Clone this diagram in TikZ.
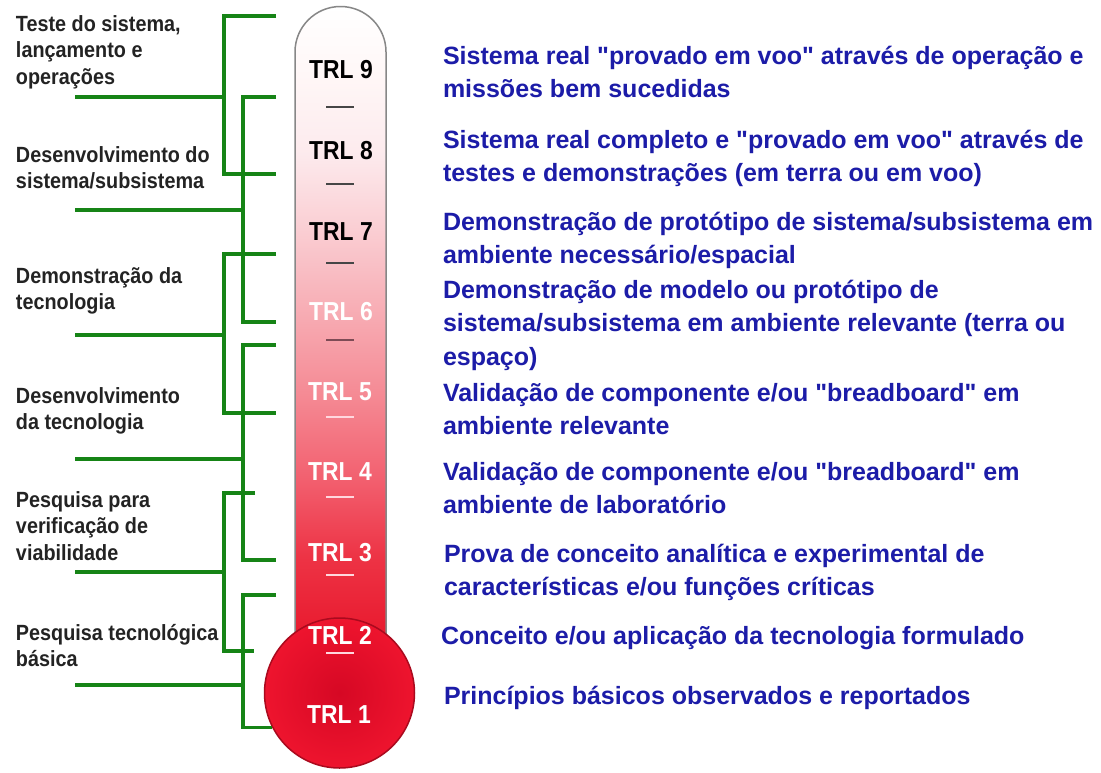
\documentclass[tikz,border=0pt]{standalone}
\usepackage{fontspec}
\setmainfont{Liberation Sans}
\newfontfamily\descfont{Liberation Sans}[Ligatures=ResetAll]
\newfontfamily\leftfont[FakeStretch=0.9]{Liberation Sans}
\newfontfamily\trlfont[FakeStretch=0.88]{Liberation Sans}
\definecolor{brgreen}{RGB}{22,132,22}
\definecolor{descblue}{RGB}{28,28,168}
\definecolor{leftgray}{RGB}{35,35,35}
\definecolor{bulbin}{RGB}{214,8,36}
\definecolor{bulbout}{RGB}{238,20,46}
\definecolor{bulbedge}{RGB}{170,10,30}
\definecolor{tubeedge}{RGB}{135,135,135}
\definecolor{tickdark}{RGB}{70,70,70}
\definecolor{tickmid}{RGB}{125,75,85}
\definecolor{ticklight}{RGB}{255,215,222}
\pgfdeclareverticalshading{tubeshade}{100bp}{%
  rgb(0bp)=(0.91,0.07,0.16);
  rgb(25bp)=(0.91,0.07,0.16);
  rgb(26.5bp)=(0.91,0.09,0.17);
  rgb(33.2bp)=(0.93,0.20,0.27);
  rgb(39.3bp)=(0.95,0.38,0.44);
  rgb(45.5bp)=(0.96,0.54,0.58);
  rgb(51.5bp)=(0.97,0.67,0.70);
  rgb(57.7bp)=(0.98,0.80,0.82);
  rgb(63.9bp)=(0.99,0.92,0.93);
  rgb(70bp)=(1,0.97,0.97);
  rgb(75bp)=(1,1,1);
  rgb(100bp)=(1,1,1)}
\tikzset{
  bracket/.style={draw=brgreen, line width=3.2pt},
  desc/.style={anchor=north west, inner sep=0pt, outer sep=0pt, align=left,
    text=descblue, font=\descfont\fontsize{25}{33.5}\selectfont\bfseries},
  cat/.style={anchor=north west, inner sep=0pt, outer sep=0pt, align=left,
    text=leftgray, font=\leftfont\fontsize{22}{26.8}\selectfont\bfseries},
  trl/.style={inner sep=0pt, font=\trlfont\fontsize{26}{30}\selectfont\bfseries},
  tickmark/.style={line width=2pt},
}
\newcommand{\fr}{\rule{0pt}{20pt}}
\newcommand{\fl}{\rule{0pt}{18pt}}
\begin{document}
\begin{tikzpicture}[x=1pt, y=-1pt]
\useasboundingbox (0,0) rectangle (1101,772);
\fill[white] (0,0) rectangle (1101,772);

% tube
\path[shading=tubeshade, draw=tubeedge, line width=1.5pt]
  (295,665) -- (295,52)
  .. controls (295,26.87) and (315.37,6.5) .. (340.5,6.5)
  .. controls (365.63,6.5) and (386,26.87) .. (386,52)
  -- (386,665) -- cycle;
% bulb
\node[circle, minimum size=150pt, inner sep=0pt, draw=bulbedge, line width=1.5pt,
  inner color=bulbin, outer color=bulbout] (bulb) at (339.5,693) {};

% bracket coordinates
\coordinate (Atop) at (276,16);  \coordinate (Av) at (224,97);  \coordinate (Abot) at (276,174); \coordinate (Astem) at (75,97);
\coordinate (Btop) at (276,97);  \coordinate (Bv) at (243,210); \coordinate (Bbot) at (276,322); \coordinate (Bstem) at (75,210);
\coordinate (Ctop) at (276,254); \coordinate (Cv) at (224,335); \coordinate (Cbot) at (276,413); \coordinate (Cstem) at (75,335);
\coordinate (Dtop) at (276,345); \coordinate (Dv) at (243,459); \coordinate (Dbot) at (276,560); \coordinate (Dstem) at (75,459);
\coordinate (Etop) at (255,493); \coordinate (Ev) at (224,572); \coordinate (Ebot) at (254,651); \coordinate (Estem) at (75,572);
\coordinate (Ftop) at (276,595); \coordinate (Fv) at (243,685); \coordinate (Fstem) at (75,685);

\draw[bracket] (Atop) -| (Av) |- (Abot);  \draw[bracket] (Astem) -- (Av);
\draw[bracket] (Btop) -| (Bv) |- (Bbot);  \draw[bracket] (Bstem) -- (Bv);
\draw[bracket] (Ctop) -| (Cv) |- (Cbot);  \draw[bracket] (Cstem) -- (Cv);
\draw[bracket] (Dtop) -| (Dv) |- (Dbot);  \draw[bracket] (Dstem) -- (Dv);
\draw[bracket] (Etop) -| (Ev) |- (Ebot);  \draw[bracket] (Estem) -- (Ev);
\draw[bracket] (Ftop) -| (Fv) |- (bulb.207); \draw[bracket] (Fstem) -- (Fv);

% TRL labels
\node[trl, text=black] (t9) at (341,70) {TRL 9};
\node[trl, text=black] (t8) at (341,151) {TRL 8};
\node[trl, text=black] (t7) at (341,232) {TRL 7};
\node[trl, text=white] (t6) at (341,312) {TRL 6};
\node[trl, text=white] (t5) at (340,392) {TRL 5};
\node[trl, text=white] (t4) at (340,472) {TRL 4};
\node[trl, text=white] (t3) at (340,553) {TRL 3};
\node[trl, text=white] (t2) at (340,635) {TRL 2};
\node[trl, text=white] (t1) at (339,715) {TRL 1};

% tick marks
\draw[tickmark, tickdark] (326,107) -- (354,107);
\draw[tickmark, tickdark] (326,184) -- (354,184);
\draw[tickmark, tickdark] (326,263) -- (354,263);
\draw[tickmark, tickmid] (326,340) -- (354,340);
\draw[tickmark, ticklight] (326,417) -- (354,417);
\draw[tickmark, ticklight] (326,497) -- (354,497);
\draw[tickmark, ticklight] (326,575) -- (354,575);
\draw[tickmark, ticklight] (326,653) -- (354,653);

% left categories
\node[cat] (c1) at (16,13) {\fl Teste do sistema,\\lançamento e\\operações};
\node[cat] (c2) at (16,144) {\fl Desenvolvimento do\\sistema/subsistema};
\node[cat] (c3) at (16,265) {\fl Demonstração da\\tecnologia};
\node[cat] (c4) at (16,385) {\fl Desenvolvimento\\da tecnologia};
\node[cat] (c5) at (16,489) {\fl Pesquisa para\\verificação de\\viabilidade};
\node[cat] (c6) at (16,622) {\fl Pesquisa tecnológica\\básica};

% right descriptions
\node[desc] (d9) at (443,44) {\fr Sistema real "provado em voo" através de operação e\\missões bem sucedidas};
\node[desc] (d8) at (443,128) {\fr Sistema real completo e "provado em voo" através de\\testes e demonstrações (em terra ou em voo)};
\node[desc] (d7) at (443,210) {\fr Demonstração de protótipo de sistema/subsistema em\\ambiente necessário/espacial};
\node[desc] (d6) at (443,278) {\fr Demonstração de modelo ou protótipo de\\sistema/subsistema em ambiente relevante (terra ou\\espaço)};
\node[desc] (d5) at (443,381) {\fr Validação de componente e/ou "breadboard" em\\ambiente relevante};
\node[desc] (d4) at (443,460) {\fr Validação de componente e/ou "breadboard" em\\ambiente de laboratório};
\node[desc] (d3) at (444,542) {\fr Prova de conceito analítica e experimental de\\características e/ou funções críticas};
\node[desc] (d2) at (441,624) {\fr Conceito e/ou aplicação da tecnologia formulado};
\node[desc] (d1) at (444,684) {\fr Princípios básicos observados e reportados};
\end{tikzpicture}
\end{document}
